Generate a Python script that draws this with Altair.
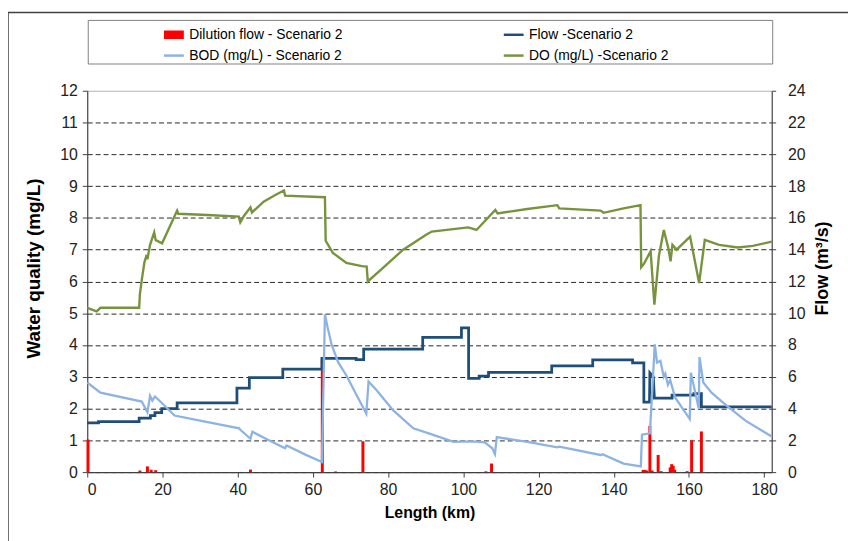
import altair as alt
import pandas as pd

# ---------------- data ----------------
S_DIL = "Dilution flow - Scenario 2"
S_FLOW = "Flow -Scenario 2"
S_BOD = "BOD (mg/L) - Scenario 2"
S_DO = "DO (mg/L) -Scenario 2"
C_DIL, C_FLOW, C_BOD, C_DO = "#ff0000", "#1f4e79", "#8db3e2", "#77933c"

x_ticks = [0, 20, 40, 60, 80, 100, 120, 140, 160, 180]
left_ticks = [0, 1, 2, 3, 4, 5, 6, 7, 8, 9, 10, 11, 12]
right_ticks = [0, 2, 4, 6, 8, 10, 12, 14, 16, 18, 20, 22, 24]

# Dilution flow (m3/s)
dil_km = [0.2, 14.0, 16.0, 17.0, 18.2, 43.4, 62.5, 66.0, 73.3, 106.0, 107.5, 147.8, 148.3,
          148.8, 149.6, 150.2, 151.8, 152.6, 155.0, 155.4, 155.8, 156.2, 159.5, 160.7, 163.3]
dil_q = [2.05, 0.1, 0.36, 0.15, 0.12, 0.16, 7.14, 0.04, 1.94, 0.05, 0.54, 0.14, 0.14,
         0.1, 2.9, 0.1, 1.08, 0.06, 0.3, 0.5, 0.4, 0.15, 0.06, 2.0, 2.56]

# Flow (m3/s)
flow_km = [0, 3, 3, 13.8, 13.8, 16.8, 16.8, 18.0, 18.0, 19.8, 19.8, 23.9, 23.9, 39.8, 39.8,
           43.1, 43.1, 52.0, 52.0, 62.4, 62.4, 71.5, 71.5, 73.5, 73.5, 89.2, 89.2, 99.5, 99.5,
           101.4, 101.4, 104.2, 104.2, 106.7, 106.7, 123.5, 123.5, 134.4, 134.4, 145.0, 145.0,
           148.0, 148.0, 149.5, 149.6, 150.5, 150.8, 155.5, 155.5, 161.3, 161.3, 163.3, 163.3, 182]
flow_q = [3.1, 3.1, 3.18, 3.18, 3.4, 3.4, 3.56, 3.56, 3.74, 3.74, 4.0, 4.0, 4.36, 4.36, 5.28,
          5.28, 5.94, 5.94, 6.48, 6.48, 7.16, 7.16, 7.08, 7.08, 7.74, 7.74, 8.48, 8.48, 9.08,
          9.08, 5.9, 5.9, 6.04, 6.04, 6.28, 6.28, 6.68, 6.68, 7.06, 7.06, 6.88,
          6.88, 4.4, 4.4, 6.24, 6.0, 4.66, 4.66, 4.84, 4.84, 4.94, 4.94, 4.1, 4.1]

# BOD (mg/L)
bod_km = [0, 3.5, 14.5, 16.0, 16.7, 17.3, 18.0, 19.7, 23.2, 31.0, 40.4, 40.7, 43.4, 43.9, 48.0,
          52.6, 53.0, 58.0, 62.4, 63.2, 64.0, 65.0, 66.7, 68.9, 71.5, 74.2, 74.8, 77.0, 81.3,
          86.7, 91.6, 97.4, 102.4, 105.7, 107.7, 108.4, 108.9, 117.0, 125.0, 125.5, 136.5,
          137.0, 142.6, 147.2, 147.5, 149.6, 150.9, 151.5, 152.4, 153.3, 153.7, 154.4, 155.0,
          156.3, 160.2, 160.5, 162.6, 162.8, 163.8, 166.0, 170.0, 175.0, 182.0]
bod_v = [2.82, 2.5, 2.22, 1.88, 2.4, 2.25, 2.38, 2.19, 1.78, 1.6, 1.38, 1.33, 1.05, 1.27, 1.02,
         0.75, 0.84, 0.55, 0.32, 4.97, 4.5, 4.0, 3.46, 3.04, 2.45, 1.84, 2.85, 2.57, 1.95,
         1.38, 1.19, 0.95, 0.97, 0.94, 0.75, 0.57, 1.1, 0.95, 0.78, 0.8, 0.54,
         0.56, 0.27, 0.18, 1.18, 1.22, 4.02, 3.45, 3.5, 3.0, 3.1, 2.75, 2.9,
         2.35, 1.67, 3.13, 2.0, 3.62, 2.82, 2.5, 2.09, 1.62, 1.12]

# DO (mg/L)
do_km = [0, 2.5, 3.5, 13.8, 14.0, 14.5, 15.2, 15.8, 16.0, 16.7, 17.8, 18.2, 19.9, 23.9, 24.2,
         32.0, 40.3, 40.7, 41.7, 43.4, 43.8, 46.9, 50.0, 52.3, 52.6, 63.2, 63.4, 65.3, 68.9,
         73.0, 74.3, 74.6, 79.6, 84.0, 90.0, 91.6, 101.3, 103.5, 108.5, 109.1, 117.0, 125.0,
         125.5, 136.5, 137.3, 142.6, 147.1, 147.3, 148.0, 149.8, 150.8, 152.0, 153.3, 154.5,
         155.1, 155.6, 156.7, 160.3, 162.7, 164.2, 168.0, 173.0, 177.0, 182.0]
do_v = [5.17, 5.06, 5.17, 5.17, 5.6, 6.05, 6.6, 6.84, 6.7, 7.15, 7.54, 7.3, 7.2, 8.23, 8.13,
        8.09, 8.04, 7.86, 8.07, 8.33, 8.17, 8.51, 8.72, 8.86, 8.7, 8.65, 7.28, 6.9, 6.58,
        6.48, 6.47, 6.0, 6.53, 7.0, 7.46, 7.57, 7.7, 7.62, 8.25, 8.14, 8.28, 8.4,
        8.3, 8.23, 8.16, 8.3, 8.4, 6.45, 6.55, 6.95, 5.27, 6.8, 7.62, 7.05,
        6.63, 7.15, 7.0, 7.41, 5.95, 7.31, 7.15, 7.07, 7.12, 7.25]


def frame(km, vals, name, field):
    return pd.DataFrame({"km": km, field: vals, "series": name, "idx": list(range(len(km)))})


dil_df = frame(dil_km, dil_q, S_DIL, "q")
flow_df = frame(flow_km, flow_q, S_FLOW, "q")
bod_df = frame(bod_km, bod_v, S_BOD, "v")
do_df = frame(do_km, do_v, S_DO, "v")

FONT = "Liberation Sans"
# filled rectangle made of stacked strokes (legend swatch for the bars)
RECT_PATH = "M-1,-0.3H1M-1,-0.15H1M-1,0H1M-1,0.15H1M-1,0.3H1"


def legend_at(lx, ly, symbol):
    return alt.Legend(
        title=None, orient="none", legendX=lx, legendY=ly, padding=0,
        labelFont=FONT, labelFontSize=14, labelColor="#000000", labelOffset=4,
        symbolType=symbol, symbolSize=400, symbolStrokeWidth=2.5, symbolOpacity=1,
    )


def color_for(name, col, legend):
    return alt.Color("series:N", scale=alt.Scale(domain=[name], range=[col]), legend=legend)


x_enc = alt.X(
    "km:Q",
    scale=alt.Scale(domain=[0, 182], nice=False, zero=False),
    axis=alt.Axis(
        values=x_ticks, title="Length (km)", grid=False, tickSize=5,
        labelFontSize=16, titleFontSize=16, labelPadding=5, titlePadding=7,
    ),
)

left_scale = alt.Scale(domain=[0, 12], nice=False)
right_scale = alt.Scale(domain=[0, 24], nice=False)

y_left_axis = alt.Y(
    "v:Q", scale=left_scale,
    axis=alt.Axis(
        orient="left", values=left_ticks, title="Water quality (mg/L)",
        grid=True,
        gridDash={"condition": {"test": "datum.value == 12", "value": []}, "value": [5, 3]},
        gridColor={"condition": {"test": "datum.value == 12", "value": "#a6a6a6"},
                   "value": "#000000"},
        gridWidth=1, gridOpacity=0.85,
        tickSize=5, labelFontSize=16, titleFontSize=19, labelPadding=5, titlePadding=16,
        titleY=179,
    ),
)
y_left_plain = alt.Y("v:Q", scale=left_scale, axis=None)

y_right_axis = alt.Y(
    "q:Q", scale=right_scale,
    axis=alt.Axis(
        orient="right", values=right_ticks, title="Flow (m³/s)", titleAngle=270,
        titleBaseline="top", titleY=179,
        grid=False, tickSize=4, labelFontSize=16, titleFontSize=18, labelPadding=12,
        titlePadding=9,
    ),
)
y_right_plain = alt.Y("q:Q", scale=right_scale, axis=None)

dil = alt.Chart(dil_df).mark_rule(strokeWidth=3).encode(
    x=x_enc, y=y_right_axis, y2=alt.datum(0),
    color=color_for(S_DIL, C_DIL, legend_at(76, -68, RECT_PATH)),
)
flow = alt.Chart(flow_df).mark_line(strokeWidth=2.8).encode(
    x=x_enc, y=y_right_plain, order="idx:Q",
    color=color_for(S_FLOW, C_FLOW, legend_at(419, -68, "stroke")),
)
bod = alt.Chart(bod_df).mark_line(strokeWidth=2.3).encode(
    x=x_enc, y=y_left_axis, order="idx:Q",
    color=color_for(S_BOD, C_BOD, legend_at(76, -47, "stroke")),
)
do = alt.Chart(do_df).mark_line(strokeWidth=2.4).encode(
    x=x_enc, y=y_left_plain, order="idx:Q",
    color=color_for(S_DO, C_DO, legend_at(419, -47, "stroke")),
)

one = pd.DataFrame({"a": [0]})
legend_box = alt.Chart(one).mark_rect(
    filled=False, stroke="#7f7f7f", strokeWidth=1
).encode(x=alt.value(1), x2=alt.value(692), y=alt.value(-71), y2=alt.value(-27))
frame_top = alt.Chart(one).mark_rule(color="#404040", strokeWidth=1.5).encode(
    x=alt.value(-80), x2=alt.value(780), y=alt.value(-79)
)
frame_left = alt.Chart(one).mark_rule(color="#404040", strokeWidth=1.5).encode(
    x=alt.value(-80), y=alt.value(-79), y2=alt.value(470)
)

chart = alt.layer(
    frame_top, frame_left, legend_box, dil, flow, bod, do
).resolve_scale(
    y="independent", color="independent"
).properties(
    width=691,
    height=385,
    padding={"left": 80, "top": 81, "right": 77, "bottom": 67},
    autosize=alt.AutoSizeParams(type="none"),
).configure_view(
    stroke=None
).configure_axis(
    labelFont=FONT, titleFont=FONT, labelColor="#222222", titleColor="#000000",
    domainColor="#404040", tickColor="#404040", domainWidth=1.2, titleFontWeight="bold",
)

chart.save("out.html", embed_options={"renderer": "svg", "actions": False})
